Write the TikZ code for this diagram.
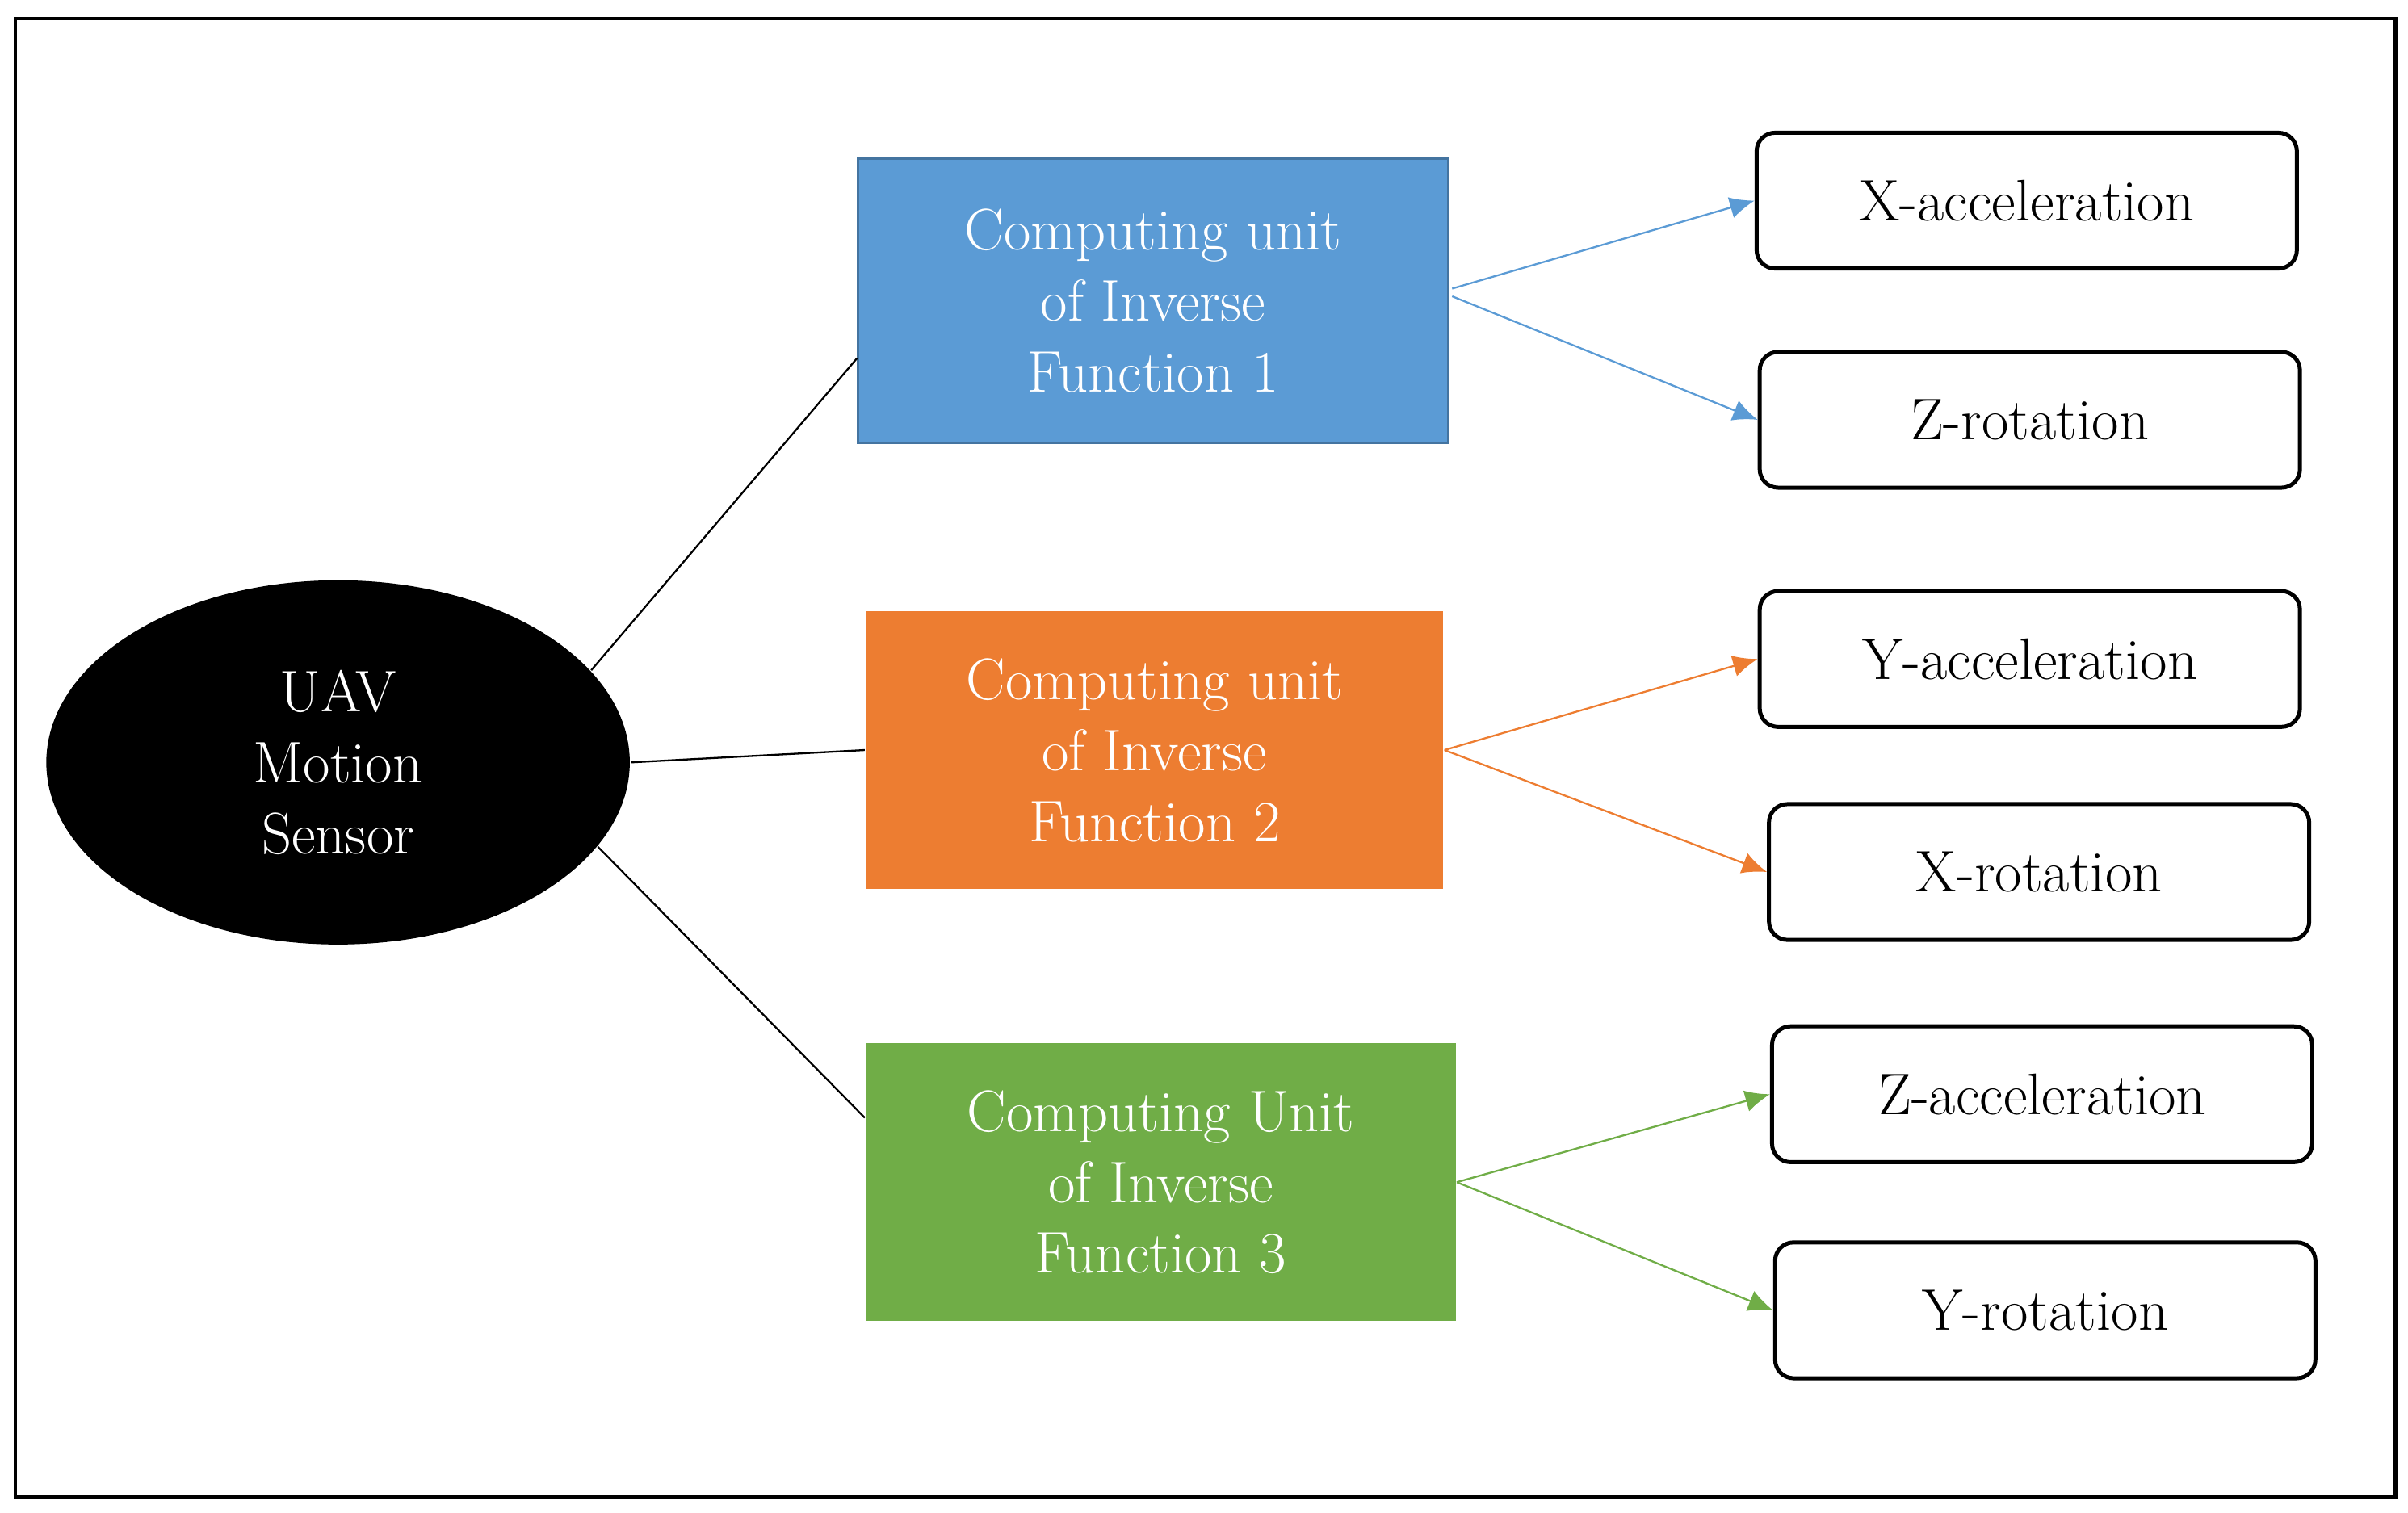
\documentclass[tikz,border=0pt]{standalone}
\usetikzlibrary{shapes.geometric,arrows.meta,calc}
\definecolor{blueunit}{RGB}{91,155,213}
\definecolor{orangeunit}{RGB}{237,125,49}
\definecolor{greenunit}{RGB}{112,173,71}
\tikzset{
  every picture/.style={line width=0.75pt},
  unit/.style={rectangle,minimum width=191pt,minimum height=92pt,text=white,align=center,
    font=\fontsize{19}{23}\selectfont,inner sep=0pt},
  result/.style={rectangle,rounded corners=6pt,draw,line width=1.3pt,minimum width=175pt,
    minimum height=44pt,font=\fontsize{19}{23}\selectfont,inner sep=0pt},
  link/.style={line width=0.6pt},
  output/.style={line width=0.6pt,-{Latex[length=8pt,width=7pt]}}
}
\begin{document}
\begin{tikzpicture}[x=0.5pt,y=0.5pt,yscale=-1]
	\path [use as bounding box] (0,0) rectangle (1560,980);
	% frame
	\draw [line width=1.2pt] (10,12) rectangle (1552,970);

	% sensor
	\node (sensor) [ellipse,fill=black,text=white,minimum width=189pt,minimum height=118pt,align=center,
	  font=\fontsize{19}{23}\selectfont] at (219,494) {UAV\\Motion\\Sensor};

	% computing units
	\node (f1) [unit,fill=blueunit,draw=blueunit!75!black] at (747,195) {Computing unit\\of Inverse\\Function 1};
	\node (f2) [unit,fill=orangeunit,minimum width=187pt,minimum height=90pt] at (748,486) {Computing unit\\of Inverse\\Function 2};
	\node (f3) [unit,fill=greenunit,minimum height=90pt] at (752,766) {Computing Unit\\of Inverse\\Function 3};

	% outputs
	\node (xacc) [result] at (1313,130) {X-acceleration};
	\node (zrot) [result] at (1315,272) {Z-rotation};
	\node (yacc) [result] at (1315,427) {Y-acceleration};
	\node (xrot) [result] at (1321,565) {X-rotation};
	\node (zacc) [result] at (1323,709) {Z-acceleration};
	\node (yrot) [result] at (1325,849) {Y-rotation};

	% links
	\draw [link] (sensor.20) -- ($(f1.south west)!0.3!(f1.north west)$);
	\draw [link] (sensor.east) -- (f2.west);
	\draw [link] (sensor.-18) -- ($(f3.north west)!0.27!(f3.south west)$);

	\draw [output,blueunit] ($(f1.east)+(2,-8)$) -- (xacc.west);
	\draw [output,blueunit] ($(f1.east)+(2,-3)$) -- (zrot.west);
	\draw [output,orangeunit] (f2.east) -- (yacc.west);
	\draw [output,orangeunit] (f2.east) -- (xrot.west);
	\draw [output,greenunit] (f3.east) -- (zacc.west);
	\draw [output,greenunit] (f3.east) -- (yrot.west);
\end{tikzpicture}
\end{document}
